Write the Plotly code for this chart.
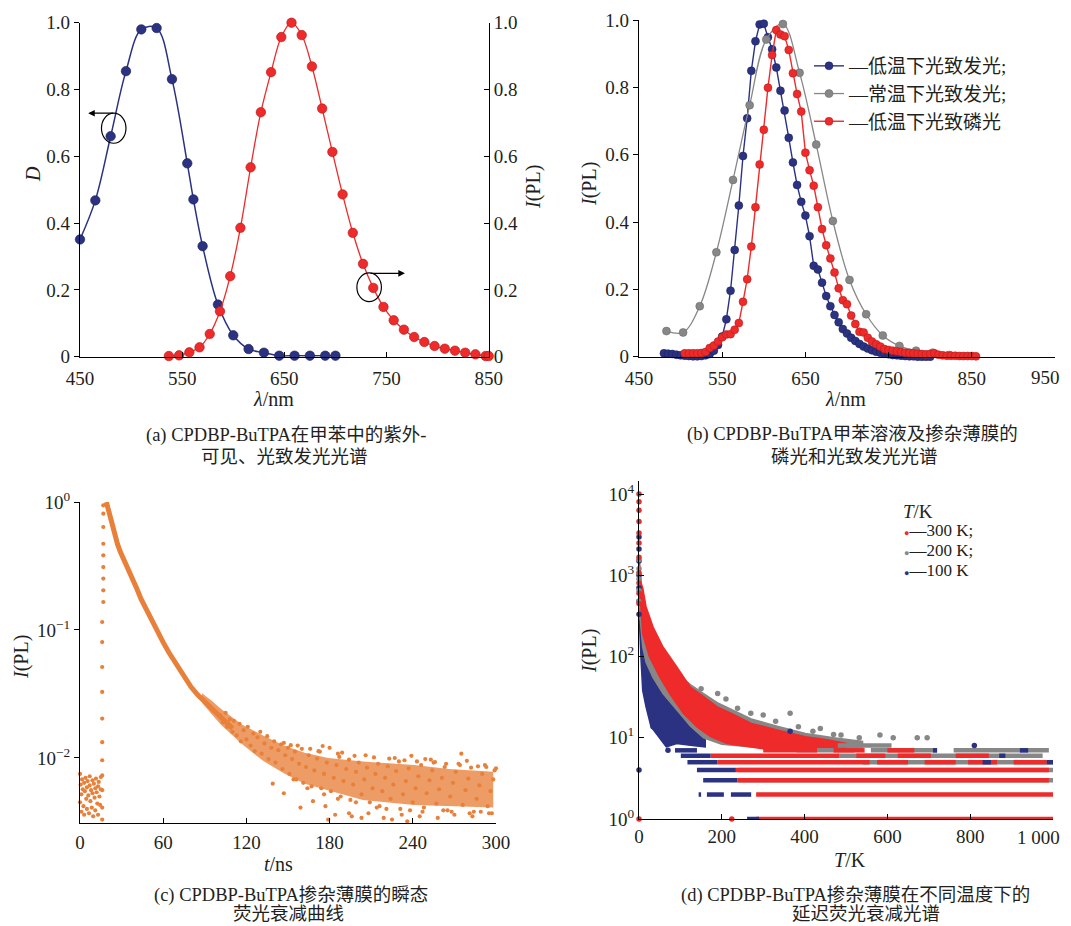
import plotly.graph_objects as go

# page body has an 8 px margin: the figure is drawn from page pixel (8, 8)
OFF = 8
W, H = 1071 - 2 * OFF, 926 - OFF
FONT = "Liberation Serif, Noto Sans CJK SC, serif"
TXT = "#231F20"
NAVY = "#2B3282"
RED = "#EE2A2A"
GRAY = "#878787"
ORANGE = "#E8803A"

# ---------------- (a) UV-vis absorption & PL ----------------
uv_wl = [450, 465, 480, 495, 510, 525, 540, 555, 561, 570, 585, 600, 615, 630, 645, 660, 675, 690, 700]
uv_d = [0.351, 0.468, 0.660, 0.855, 0.980, 0.984, 0.831, 0.579, 0.471, 0.331, 0.156, 0.064, 0.023,
        0.012, 0.003, 0.003, 0.003, 0.003, 0.003]
pl_wl = [537, 547, 557, 567, 577, 587, 597, 607, 617, 627, 637, 647, 657, 667, 677, 687, 697, 707,
         717, 727, 737, 747, 757, 767, 777, 787, 797, 807, 817, 827, 837, 847, 850]
pl_i = [0.002, 0.004, 0.013, 0.028, 0.068, 0.136, 0.241, 0.386, 0.567, 0.732, 0.852, 0.957, 1.0,
        0.963, 0.869, 0.743, 0.613, 0.486, 0.371, 0.278, 0.206, 0.149, 0.109, 0.081, 0.059, 0.044,
        0.032, 0.024, 0.018, 0.012, 0.007, 0.002, 0.002]
a_xticks = [450, 550, 650, 750, 850]
lin_ticks = [0, 0.2, 0.4, 0.6, 0.8, 1.0]
lin_labels = ["0", "0.2", "0.4", "0.6", "0.8", "1.0"]

# ---------------- (b) PL / phosphorescence ----------------
b_blue_wl = [480, 485, 490, 495, 500, 505, 510, 515, 520, 525, 530, 535, 540, 545, 550, 555, 560, 565,
             570, 575, 580, 585, 590, 595, 600, 605, 610, 615, 620, 625, 630, 635, 640, 645, 650, 655,
             660, 665, 670, 675, 680, 685, 690, 695, 700, 705, 710, 715, 720, 725, 730, 735, 740, 745,
             750, 755, 760, 765, 770, 775, 780, 785, 790, 795, 800]
b_blue_i = [0.010, 0.009, 0.008, 0.006, 0.004, 0.003, 0.002, 0.001, 0.001, 0.002,
            0.004, 0.008, 0.018, 0.035, 0.060, 0.111, 0.196, 0.317, 0.449, 0.596,
            0.708, 0.849, 0.937, 0.987, 0.989, 0.949, 0.913, 0.859, 0.790, 0.731,
            0.650, 0.577, 0.510, 0.460, 0.419, 0.358, 0.270, 0.259, 0.220, 0.180,
            0.150, 0.124, 0.102, 0.082, 0.069, 0.056, 0.047, 0.038, 0.030, 0.024,
            0.019, 0.015, 0.012, 0.009, 0.007, 0.005, 0.004, 0.003, 0.002, 0.001,
            0.001, 0.0, 0.0, 0.0, 0.0]
b_gray_wl = [483, 503, 523, 543, 563, 583, 603, 623, 643, 663, 683, 703, 723, 743, 763, 783, 803, 823]
b_gray_i = [0.076, 0.072, 0.150, 0.310, 0.525, 0.747, 0.942, 0.988, 0.843, 0.630, 0.403, 0.228,
            0.126, 0.063, 0.032, 0.018, 0.012, 0.005]
b_red_wl = [505, 510, 515, 520, 525, 530, 535, 540, 545, 550, 555, 560, 565, 570, 575, 580, 585, 590,
            595, 600, 605, 610, 615, 620, 625, 630, 635, 640, 645, 650, 655, 660, 665, 670, 675, 680,
            685, 690, 695, 700, 705, 710, 715, 720, 725, 730, 735, 740, 745, 750, 755, 760, 765, 770,
            775, 780, 785, 790, 795, 800, 805, 810, 815, 820, 825, 830, 835, 840, 845, 850, 855]
b_red_i = [0.010, 0.010, 0.010, 0.010, 0.011, 0.014, 0.026, 0.033, 0.045, 0.058,
           0.066, 0.067, 0.080, 0.100, 0.163, 0.230, 0.327, 0.444, 0.571, 0.674,
           0.799, 0.896, 0.970, 0.957, 0.952, 0.911, 0.842, 0.780, 0.728, 0.606,
           0.554, 0.508, 0.444, 0.379, 0.331, 0.292, 0.250, 0.203, 0.168, 0.156,
           0.122, 0.097, 0.074, 0.072, 0.056, 0.045, 0.037, 0.030, 0.023, 0.020,
           0.018, 0.016, 0.014, 0.012, 0.011, 0.010, 0.009, 0.008, 0.007, 0.008,
           0.010, 0.006, 0.004, 0.003, 0.003, 0.003, 0.002, 0.002, 0.002, 0.002, 0.001]
b_names = ["—低温下光致发光;", "—常温下光致发光;", "—低温下光致磷光"]
b_xticks = [450, 550, 650, 750, 850, 950]
b_xlabels = ["450", "550", "650", "750", "850", "950"]

# ---------------- (c) transient decay ----------------
c_pre_t = [0, 0, 0.5, 1, 1, 1.5, 2, 2.5, 3, 3, 3.5, 4, 4.5, 5, 5, 5.5, 6, 6.5, 7, 7,
           7.5, 8, 8.5, 9, 9, 9.5, 10, 10.5, 11, 11, 11.5, 12, 12.5, 13, 13, 13.5, 14, 14.5, 15, 15]
c_pre_i = [0.0075, 0.0045, 0.0062, 0.0052, 0.0038, 0.0068, 0.0057, 0.0042, 0.0064, 0.0036,
           0.0055, 0.0070, 0.0048, 0.0059, 0.0040, 0.0066, 0.0051, 0.0037, 0.0061, 0.0072,
           0.0046, 0.0056, 0.0041, 0.0067, 0.0053, 0.0035, 0.0063, 0.0049, 0.0058, 0.0039,
           0.0069, 0.0054, 0.0044, 0.0060, 0.0036, 0.0065, 0.0050, 0.0043, 0.0071, 0.0057]
c_rise_t = [16, 16, 16, 16, 16, 16, 16, 16, 16, 16, 16, 16.8, 16.8, 16.8, 16.8, 16.8, 16.8, 16.8, 16.8, 16.8]
c_rise_i = [0.0033, 0.0041, 0.0056, 0.0073, 0.0096, 0.0133, 0.0203, 0.0328, 0.0514, 0.0805, 0.1155,
            0.1655, 0.204, 0.252, 0.31, 0.383, 0.472, 0.638, 0.811, 0.942]
c_decay_t = [19, 20, 21, 22, 23, 24, 25, 27, 29, 32, 35, 38, 41, 44, 47, 50, 53, 56, 60, 64, 68, 72,
             76, 80, 85, 90, 95, 100, 105, 110]
c_decay_i = [1.0, 0.90, 0.81, 0.73, 0.655, 0.59, 0.54, 0.47, 0.41, 0.35, 0.30, 0.25, 0.21, 0.175, 0.150,
             0.130, 0.113, 0.097, 0.080, 0.067, 0.057, 0.0484, 0.042, 0.036, 0.031, 0.0275, 0.024,
             0.0215, 0.019, 0.017]
c_band_t = [88, 95, 102, 117, 132, 147, 162, 179, 204, 241, 266, 298]
c_band_hi = [0.032, 0.028, 0.024, 0.0182, 0.0150, 0.0125, 0.0110, 0.0100, 0.0094, 0.0088, 0.0082, 0.0078]
c_band_lo = [0.027, 0.022, 0.018, 0.0128, 0.0095, 0.0076, 0.0063, 0.0056, 0.0047, 0.0043, 0.0042, 0.0041]
c_tail_t = [101, 103, 105, 106, 108, 110, 111, 113, 115, 116, 118, 120, 121, 123, 125, 126, 128, 130, 131,
            133, 135, 136, 138, 140, 141, 143, 145, 146, 148, 150, 151, 153, 155, 156, 158, 160, 161, 163,
            165, 167, 169, 171, 173, 174, 176, 178, 180, 181, 183, 185, 187, 188, 190, 192, 194, 195, 197,
            199, 201, 203, 205, 207, 209, 211, 213, 215, 216, 218, 220, 222, 224, 226, 228, 230, 231, 233,
            235, 237, 239, 240, 242, 244, 246, 248, 250, 252, 254, 256, 257, 259, 261, 263, 265, 267, 269,
            271, 273, 275, 276, 278, 280, 282, 284, 286, 288, 290, 292, 294, 296, 298, 299,
            147, 157, 175, 249, 139, 147, 159, 168, 177, 179, 194, 203, 215, 225, 236, 250, 261, 271, 285, 298,
            184, 196, 208, 219, 232, 245, 258, 270, 283, 295, 189, 206, 227, 253, 279,
            152, 166, 172, 186, 198, 212, 223, 234, 243, 255, 264, 274, 287, 293, 300,
            154, 164, 176, 186, 199, 214, 221, 238, 247, 262, 268, 281, 289, 297]
c_tail_i = [0.0215, 0.019, 0.0225, 0.0175, 0.020, 0.016, 0.0195, 0.0150, 0.0185, 0.0135, 0.0165, 0.0140,
            0.0175, 0.0125, 0.0155, 0.0113, 0.0145, 0.0160, 0.0108, 0.0130, 0.0148, 0.0098, 0.0120, 0.0135,
            0.0092, 0.0115, 0.0128, 0.0082, 0.0105, 0.0120, 0.0075, 0.0098, 0.0112, 0.0068, 0.0090, 0.0118,
            0.0064, 0.0085, 0.0105, 0.0060, 0.0080, 0.0099, 0.0112, 0.0058, 0.0075, 0.0092, 0.0120, 0.0055,
            0.0070, 0.0088, 0.0102, 0.0050, 0.0066, 0.0082, 0.0097, 0.0047, 0.0062, 0.0078, 0.0092, 0.0052,
            0.0068, 0.0084, 0.0045, 0.0058, 0.0075, 0.0090, 0.0042, 0.0055, 0.0070, 0.0086, 0.0048, 0.0062,
            0.0079, 0.0094, 0.0040, 0.0052, 0.0066, 0.0083, 0.0104, 0.0045, 0.0058, 0.0072, 0.0088, 0.0041,
            0.0053, 0.0067, 0.0080, 0.0093, 0.0044, 0.0057, 0.0070, 0.0085, 0.0039, 0.0050, 0.0064, 0.0078,
            0.0090, 0.0108, 0.0043, 0.0056, 0.0069, 0.0084, 0.0038, 0.0048, 0.0061, 0.0075, 0.0088, 0.0042,
            0.0055, 0.0068, 0.0080,
            0.0131, 0.0125, 0.0124, 0.0098, 0.0063, 0.0053, 0.0041, 0.0046, 0.0042, 0.0033, 0.0037, 0.0034,
            0.0031, 0.0033, 0.0032, 0.0031, 0.0031, 0.0031, 0.0031, 0.0031,
            0.0036, 0.0035, 0.0037, 0.0034, 0.0036, 0.0035, 0.0034, 0.0036, 0.0035, 0.0037,
            0.0110, 0.0105, 0.0100, 0.0097, 0.0095,
            0.0126, 0.0118, 0.0113, 0.0108, 0.0104, 0.0101, 0.0099, 0.0096, 0.0094, 0.0092, 0.0090, 0.0088,
            0.0086, 0.0085, 0.0083,
            0.0068, 0.0058, 0.0052, 0.0048, 0.0045, 0.0041, 0.0040, 0.0039, 0.0038, 0.0039, 0.0038, 0.0037,
            0.0038, 0.0037]
c_xticks = [0, 60, 120, 180, 240, 300]

# ---------------- (d) delayed fluorescence ----------------
d_red_col_x = [0, 0, 0, 0, 0, 0, 0, 0, 0, 0, 0, 0, 224]
d_red_col_y = [10000, 8000, 6300, 4600, 3300, 2500, 1660, 1070, 800, 600, 450, 1, 1]
d_gray_col_x = [0, 0, 0, 0, 0]
d_gray_col_y = [1550, 1200, 900, 650, 480]
d_blue_col_x = [0, 0, 0, 0, 0, 0, 0, 0]
d_blue_col_y = [2950, 2100, 1500, 1000, 700, 480, 330, 4]

d_red_up_x = [1, 3, 5, 9, 17, 34, 58, 91, 124, 156, 189, 222, 271, 336, 402, 450, 500]
d_red_up_y = [1500, 1000, 800, 700, 410, 230, 131, 75, 42, 32, 24, 20, 15, 12.4, 10.3, 9.5, 8.5]
d_red_lo_x = [500, 400, 300, 213, 173, 140, 107, 74, 50, 25, 9, 5, 2, 1]
d_red_lo_y = [7.3, 7.3, 7.3, 8.5, 10.3, 13.6, 20, 35, 56, 100, 190, 370, 700, 1000]
d_gray_up_x = [1, 3, 9, 17, 34, 58, 91, 124, 156, 189, 222, 271, 336, 402, 470, 540]
d_gray_up_y = [1200, 600, 350, 230, 150, 95, 62, 45, 35, 27, 22.5, 17, 13.8, 11.3, 10, 9]
d_gray_lo_x = [540, 400, 300, 200, 156, 124, 91, 58, 34, 17, 9, 4, 1]
d_gray_lo_y = [7.5, 7.5, 7.5, 8.3, 10, 14, 22, 35, 55, 85, 130, 250, 500]
d_blue_up_x = [1, 2, 5, 9, 25, 50, 91, 115, 148, 160]
d_blue_up_y = [1000, 400, 200, 131, 75, 42, 26, 20, 13.7, 9.4]
d_blue_lo_x = [160, 124, 91, 66, 42, 29, 17, 9, 5, 1]
d_blue_lo_y = [7.7, 8.1, 8.5, 7.7, 11.3, 13.7, 24, 38, 90, 280]

d_red_band_lvl = [1, 2, 3, 4, 5, 5, 5, 5, 5, 6, 6, 6, 6, 7, 7, 7, 8]
d_red_band_x0 = [283, 283, 238, 234, 189, 575, 690, 795, 905, 173, 525, 625, 765, 300, 470, 600, 420]
d_red_band_x1 = [1000, 1000, 990, 990, 557, 650, 765, 865, 985, 483, 595, 705, 845, 430, 545, 665, 470]
d_gray_band_lvl = [3, 4, 5, 6, 7, 7, 7, 8]
d_gray_band_x0 = [240, 240, 540, 480, 380, 560, 760, 480]
d_gray_band_x1 = [1000, 1000, 1000, 975, 520, 720, 990, 610]
d_blue_band_lvl = [1, 2, 2, 2, 3, 4, 5, 5, 5, 6, 6, 7, 7, 7]
d_blue_band_x0 = [261, 144, 164, 222, 155, 140, 117, 830, 985, 101, 870, 87, 710, 920]
d_blue_band_x1 = [290, 150, 205, 271, 238, 234, 189, 850, 1000, 173, 885, 140, 720, 940]

d_gray_dot_x = [238, 270, 365, 385, 438, 488, 532, 582, 614, 672, 696, 190, 150, 210, 300, 330, 420, 470]
d_gray_dot_y = [23, 20, 20, 13.7, 13, 10.8, 10, 10.8, 10, 10, 10, 35, 40, 30, 19, 16, 12, 11]
d_red_dot_x = [95, 80, 115]
d_red_dot_y = [59, 75, 45]
d_blue_dot_x = [34, 70, 810, 365]
d_blue_dot_y = [13.7, 7, 8, 12]
d_names = ["—300 K;", "—200 K;", "—100 K"]
d_xticks = [0, 200, 400, 600, 800, 1000]
d_xlabels = ["0", "200", "400", "600", "800", "1 000"]
d_yticks = [1, 10, 100, 1000, 10000]


def px(x):
    return (x - OFF) / W


def py(y):
    return 1 - (y - OFF) / H


def polygon(ux, uy, lx, ly):
    return ux + lx, uy + ly


def segs(lvls, x0s, x1s):
    xs, ys = [], []
    for l, a, b in zip(lvls, x0s, x1s):
        xs += [a, b, None]
        ys += [l, l, None]
    return xs, ys


fig = go.Figure()

# (a)
fig.add_trace(go.Scatter(x=uv_wl, y=uv_d, mode="lines+markers", line=dict(color=NAVY, width=1.5, shape="spline"),
                         marker=dict(size=9.5, color=NAVY, line=dict(color="#1a1f55", width=0.6)),
                         xaxis="x", yaxis="y", showlegend=False, cliponaxis=False))
fig.add_trace(go.Scatter(x=pl_wl, y=pl_i, mode="lines+markers", line=dict(color=RED, width=1.3, shape="spline"),
                         marker=dict(size=9.5, color=RED, line=dict(color="#b01818", width=0.6)),
                         xaxis="x", yaxis="y2", showlegend=False, cliponaxis=False))

# (b)
fig.add_trace(go.Scatter(x=b_blue_wl, y=b_blue_i, mode="lines+markers", name=b_names[0],
                         line=dict(color=NAVY, width=1.4),
                         marker=dict(size=8, color=NAVY, line=dict(color="#1a1f55", width=0.5)),
                         xaxis="x2", yaxis="y3", legend="legend", cliponaxis=False))
fig.add_trace(go.Scatter(x=b_gray_wl, y=b_gray_i, mode="lines+markers", name=b_names[1],
                         line=dict(color=GRAY, width=1.3, shape="spline"),
                         marker=dict(size=8, color=GRAY, line=dict(color="#666666", width=0.5)),
                         xaxis="x2", yaxis="y3", legend="legend", cliponaxis=False))
fig.add_trace(go.Scatter(x=b_red_wl, y=b_red_i, mode="lines+markers", name=b_names[2],
                         line=dict(color=RED, width=1.4),
                         marker=dict(size=8, color=RED, line=dict(color="#b01818", width=0.5)),
                         xaxis="x2", yaxis="y3", legend="legend", cliponaxis=False))

# (c)
bx, by = polygon(c_band_t, c_band_hi, c_band_t[::-1], c_band_lo[::-1])
fig.add_trace(go.Scatter(x=bx, y=by, mode="lines", fill="toself", fillcolor="rgba(232,128,58,0.78)",
                         line=dict(width=0), xaxis="x3", yaxis="y4", showlegend=False, hoverinfo="skip"))
fig.add_trace(go.Scatter(x=c_decay_t, y=c_decay_i, mode="lines", line=dict(color=ORANGE, width=5),
                         xaxis="x3", yaxis="y4", showlegend=False))
for tx, ty in [(c_pre_t, c_pre_i), (c_rise_t, c_rise_i), (c_tail_t, c_tail_i)]:
    fig.add_trace(go.Scatter(x=tx, y=ty, mode="markers", marker=dict(size=4.2, color=ORANGE),
                             xaxis="x3", yaxis="y4", showlegend=False, cliponaxis=False))

# (d) clouds: blue, gray, red
for (ux, uy, lx, ly, col) in [(d_blue_up_x, d_blue_up_y, d_blue_lo_x, d_blue_lo_y, NAVY),
                              (d_gray_up_x, d_gray_up_y, d_gray_lo_x, d_gray_lo_y, GRAY),
                              (d_red_up_x, d_red_up_y, d_red_lo_x, d_red_lo_y, RED)]:
    qx, qy = polygon(ux, uy, lx, ly)
    fig.add_trace(go.Scatter(x=qx, y=qy, mode="lines", fill="toself", fillcolor=col,
                             line=dict(width=1.5, color=col), xaxis="x4", yaxis="y5",
                             showlegend=False, hoverinfo="skip"))
for (lv, a, b, col) in [(d_gray_band_lvl, d_gray_band_x0, d_gray_band_x1, GRAY),
                        (d_red_band_lvl, d_red_band_x0, d_red_band_x1, RED),
                        (d_blue_band_lvl, d_blue_band_x0, d_blue_band_x1, NAVY)]:
    sx, sy = segs(lv, a, b)
    fig.add_trace(go.Scatter(x=sx, y=sy, mode="lines", line=dict(color=col, width=4.5),
                             xaxis="x4", yaxis="y5", showlegend=False, hoverinfo="skip"))
for (dx, dy, col) in [(d_gray_dot_x, d_gray_dot_y, GRAY), (d_red_dot_x, d_red_dot_y, RED),
                      (d_blue_dot_x, d_blue_dot_y, NAVY)]:
    fig.add_trace(go.Scatter(x=dx, y=dy, mode="markers", marker=dict(size=5.5, color=col),
                             xaxis="x4", yaxis="y5", showlegend=False, cliponaxis=False))
d_cols = {d_names[0]: RED, d_names[1]: GRAY, d_names[2]: NAVY}
for (cx, cy, col) in [(d_blue_col_x, d_blue_col_y, NAVY), (d_gray_col_x, d_gray_col_y, GRAY),
                      (d_red_col_x, d_red_col_y, RED)]:
    fig.add_trace(go.Scatter(x=cx, y=cy, mode="markers", marker=dict(size=5.5, color=col),
                             xaxis="x4", yaxis="y5", showlegend=False, cliponaxis=False))

axis_common = dict(showline=True, linecolor="black", linewidth=1.3, showgrid=False, zeroline=False,
                   tickcolor="black", tickwidth=1.2, ticklen=5, automargin=False,
                   ticklabeloverflow="allow",
                   tickfont=dict(family=FONT, size=19, color=TXT))

# the last x labels of (b) and (d) sit at the page edge; they are drawn as right-aligned texts below
b_xtext = b_xlabels[:-1] + [""]
d_xtext = d_xlabels[:-1] + [""]

fig.update_layout(
    width=W, height=H, margin=dict(l=0, r=0, t=0, b=0, pad=0, autoexpand=False),
    paper_bgcolor="white", plot_bgcolor="rgba(0,0,0,0)",
    font=dict(family=FONT, color=TXT),
    xaxis=dict(axis_common, domain=[px(80), px(488.7)], range=[450, 850], tickvals=a_xticks,
               ticks="inside", anchor="y", ticklabelstandoff=4),
    yaxis=dict(axis_common, domain=[py(356.7), py(22.7)], range=[0, 1], tickvals=lin_ticks, ticktext=lin_labels,
               ticks="outside", anchor="x"),
    yaxis2=dict(axis_common, overlaying="y", side="right", anchor="x", range=[0, 1], tickvals=lin_ticks,
                ticktext=lin_labels, ticks="inside"),
    xaxis2=dict(axis_common, domain=[px(639), px(1055)], range=[450, 950],
                tickvals=b_xticks, ticktext=b_xtext, ticks="inside", anchor="y3", ticklabelstandoff=4),
    yaxis3=dict(axis_common, domain=[py(356.7), py(20)], range=[0, 1], tickvals=lin_ticks, ticktext=lin_labels,
                ticks="outside", anchor="x2"),
    xaxis3=dict(axis_common, domain=[px(80), px(496)], range=[0, 300], tickvals=c_xticks,
                ticks="inside", anchor="y4", ticklabelstandoff=2),
    yaxis4=dict(axis_common, type="log", domain=[py(823), py(502)], range=[-2.508, 0],
                tickvals=[1, 0.1, 0.01], ticktext=["10<sup>0</sup>", "10<sup>−1</sup>", "10<sup>−2</sup>"],
                ticks="outside", anchor="x3"),
    xaxis4=dict(axis_common, domain=[px(639), px(1053)], range=[0, 1000],
                tickvals=d_xticks, ticktext=d_xtext, ticks="inside", anchor="y5"),
    yaxis5=dict(axis_common, type="log", domain=[py(819), py(481)], range=[0, 4.16],
                tickvals=d_yticks,
                ticktext=["10<sup>0</sup>", "10<sup>1</sup>", "10<sup>2</sup>", "10<sup>3</sup>", "10<sup>4</sup>"],
                ticks="inside", anchor="x4"),
    legend=dict(x=px(809), y=py(47), xanchor="left", yanchor="top", bgcolor="rgba(0,0,0,0)",
                font=dict(family=FONT, size=19, color=TXT), tracegroupgap=0),
)

# (a) circles & arrows
fig.add_shape(type="circle", xref="x", yref="y", x0=471, x1=495, y0=0.639, y1=0.729,
              line=dict(color="black", width=1.2))
fig.add_shape(type="circle", xref="x", yref="y", x0=721, x1=745, y0=0.165, y1=0.251,
              line=dict(color="black", width=1.2))
fig.add_annotation(x=458, y=0.729, ax=484, ay=0.729, xref="x", yref="y", axref="x", ayref="y",
                   text="", showarrow=True, arrowhead=2, arrowsize=1.1, arrowwidth=1.2, arrowcolor="black")
fig.add_annotation(x=768, y=0.2495, ax=733, ay=0.2495, xref="x", yref="y", axref="x", ayref="y",
                   text="", showarrow=True, arrowhead=2, arrowsize=1.1, arrowwidth=1.2, arrowcolor="black")

# last tick labels of (b) and (d), kept inside the page
fig.add_annotation(text=b_xlabels[-1], x=px(1062), y=py(377), xref="paper", yref="paper", showarrow=False,
                   xanchor="right", yanchor="middle", font=dict(family=FONT, size=19, color=TXT))
fig.add_annotation(text=d_xlabels[-1], x=px(1062), y=py(837), xref="paper", yref="paper", showarrow=False,
                   xanchor="right", yanchor="middle", font=dict(family=FONT, size=19, color=TXT))

texts = [
    # axis titles
    ("<i>λ</i>/nm", 273, 399, 20, 0),
    ("<i>λ</i>/nm", 845, 399, 20, 0),
    ("<i>t</i>/ns", 278, 864, 20, 0),
    ("<i>T</i>/K", 850, 860, 20, 0),
    ("<i>D</i>", 33, 174, 20, -90),
    ("<i>I</i>(PL)", 533, 187, 20, -90),
    ("<i>I</i>(PL)", 589, 184, 20, -90),
    ("<i>I</i>(PL)", 21, 657, 20, -90),
    ("<i>I</i>(PL)", 589, 651, 20, -90),
    # captions
    ("(a) CPDBP-BuTPA在甲苯中的紫外-", 286, 435, 18.5, 0),
    ("可见、光致发光光谱", 284, 457, 18.5, 0),
    ("(b) CPDBP-BuTPA甲苯溶液及掺杂薄膜的", 852, 434, 18.5, 0),
    ("磷光和光致发光光谱", 854, 457, 18.5, 0),
    ("(c) CPDBP-BuTPA掺杂薄膜的瞬态", 291, 895, 18.5, 0),
    ("荧光衰减曲线", 288, 914, 18.5, 0),
    ("(d) CPDBP-BuTPA掺杂薄膜在不同温度下的", 855, 895, 18.5, 0),
    ("延迟荧光衰减光谱", 866, 914, 18.5, 0),
]
for t, x, y, s, ang in texts:
    fig.add_annotation(text=t, x=px(x), y=py(y), xref="paper", yref="paper", showarrow=False,
                       xanchor="center", yanchor="middle", textangle=ang,
                       font=dict(family=FONT, size=s, color=TXT))

# (d) legend (title + entries)
fig.add_annotation(text="<i>T</i>/K", x=px(901), y=py(511), xref="paper", yref="paper", showarrow=False,
                   xanchor="left", yanchor="middle", font=dict(family=FONT, size=19, color=TXT))
for i, nm in enumerate(d_names):
    fig.add_annotation(text="<span style='color:%s;font-size:9px'>●</span>%s" % (d_cols[nm], nm),
                       x=px(902), y=py(530 + 20 * i), xref="paper", yref="paper", showarrow=False,
                       xanchor="left", yanchor="middle", font=dict(family=FONT, size=17, color=TXT))

fig.write_html("out.html")
